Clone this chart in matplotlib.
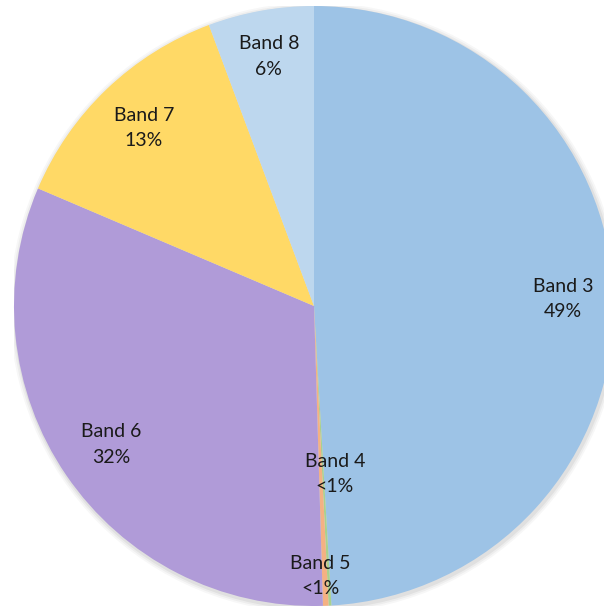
import matplotlib.pyplot as plt
import numpy as np

# band shares (percent), clockwise from 12 o'clock
bands = ['Band 3', 'Band 4', 'Band 5', 'Band 6', 'Band 7', 'Band 8']
shares = [49.1, 0.15, 0.3, 31.9, 12.9, 5.7]
pct_text = ['49%', '<1%', '<1%', '32%', '13%', '6%']
colors = ['#9dc3e6', '#a9d18e', '#f4b183', '#b09bd8', '#ffd966', '#bdd7ee']
label_dist = [0.83, 0.56, 0.90, 0.82, 0.82, 0.845]
label_dx = [0, 0.04, -0.015, 0, 0, 0]

fig = plt.figure(figsize=(6.04, 6.06), dpi=100)
# pie centre sits at (314, 306) px with a 300 px radius; right and bottom are cut off
ax = fig.add_axes([(314 - 300) / 604, (300 - 300) / 606, 600 / 604, 600 / 606])

# soft shadow around the rim
for k, a in enumerate([0.05, 0.04, 0.03]):
    ax.add_patch(plt.Circle((0.004, -0.006), 1 + 0.006 * (k + 1), color='black',
                            alpha=a, lw=0, zorder=0))

wedges, _ = ax.pie(shares, colors=colors, startangle=90, counterclock=False,
                   radius=1, wedgeprops=dict(lw=0))
for w in wedges:
    w.set_zorder(1)
ax.set_xlim(-1, 1)
ax.set_ylim(-1, 1)
ax.axis('off')

total = sum(shares)
start = 90.0
for name, val, pct, d, dx in zip(bands, shares, pct_text, label_dist, label_dx):
    mid = start - val / total * 360 / 2
    start -= val / total * 360
    t = np.deg2rad(mid)
    x, y = d * np.cos(t) + dx, d * np.sin(t)
    ax.text(x, y, f'{name}\n{pct}', ha='center', va='center', fontsize=14,
            family=['Lato', 'DejaVu Sans'], color='#1a1a1a', linespacing=1.6,
            zorder=3)

fig.savefig('out.png', dpi=100)
